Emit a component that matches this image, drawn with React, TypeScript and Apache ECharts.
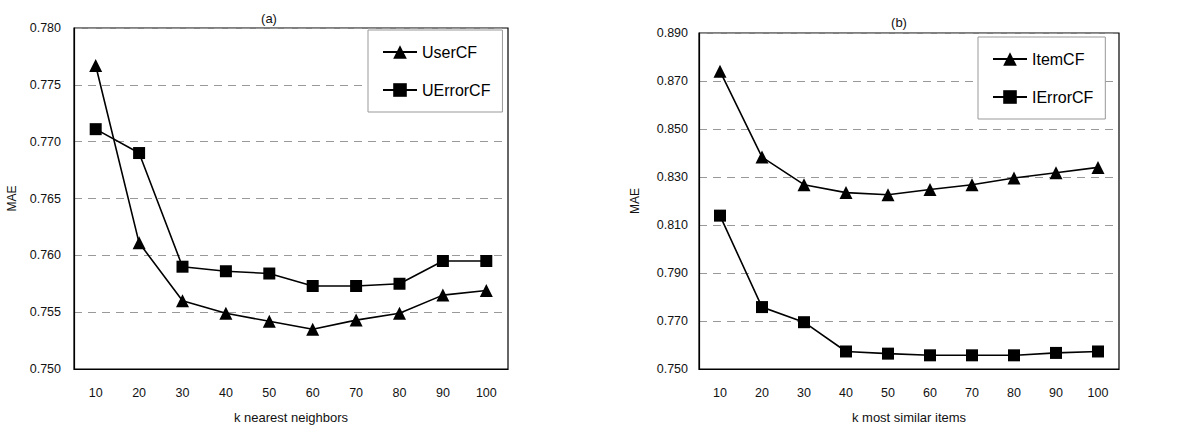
import React, { useEffect, useRef } from "react";
import * as echarts from "echarts";

const categories = ["10", "20", "30", "40", "50", "60", "70", "80", "90", "100"];
const userCF = [0.7767, 0.7611, 0.756, 0.7549, 0.7542, 0.7535, 0.7543, 0.7549, 0.7565, 0.7569];
const uErrorCF = [0.7711, 0.769, 0.759, 0.7586, 0.7584, 0.7573, 0.7573, 0.7575, 0.7595, 0.7595];
const itemCF = [0.8741, 0.8383, 0.8268, 0.8235, 0.8226, 0.8248, 0.8268, 0.8296, 0.8318, 0.834];
const iErrorCF = [0.8139, 0.7758, 0.7695, 0.7573, 0.7564, 0.7557, 0.7557, 0.7557, 0.7567, 0.7573];

const FONT = "Liberation Sans, Arial, sans-serif";

export default function App() {
  const ref = useRef<HTMLDivElement>(null);
  useEffect(() => {
    document.body.style.margin = "0";
    const chart = echarts.init(ref.current!, null, { renderer: "svg" });
    const lineStyle = { color: "#000", width: 1.6 };
    const mkX = (gi: number, name: string) => ({
      type: "category",
      gridIndex: gi,
      data: categories,
      boundaryGap: true,
      name,
      nameLocation: "middle",
      nameGap: 42,
      nameTextStyle: { fontFamily: FONT, fontSize: 13, color: "#111" },
      axisLine: { lineStyle: { color: "#000", width: 1.2 } },
      axisTick: { show: false },
      axisLabel: { fontFamily: FONT, fontSize: 12.5, color: "#111", margin: 17 },
      splitLine: { show: false },
    });
    const mkY = (gi: number, min: number, max: number, interval: number, margin: number, nameGap: number) => ({
      type: "value",
      gridIndex: gi,
      min,
      max,
      interval,
      name: "MAE",
      nameLocation: "middle",
      nameGap,
      nameRotate: 90,
      nameTextStyle: { fontFamily: FONT, fontSize: 12, color: "#111" },
      axisLine: { show: true, lineStyle: { color: "#000", width: 1.2 } },
      axisTick: { show: false },
      axisLabel: {
        fontFamily: FONT,
        fontSize: 12.5,
        color: "#111",
        margin,
        formatter: (v: number) => v.toFixed(3),
      },
      splitLine: { show: true, lineStyle: { color: "#999", type: [8, 6], width: 1 } },
    });
    const legendCommon = {
      orient: "vertical",
      itemWidth: 34,
      itemHeight: 17,
      itemGap: 22,
      borderColor: "#999",
      borderWidth: 1,
      backgroundColor: "#fff",
      textStyle: { fontFamily: FONT, fontSize: 16, color: "#000" },
      padding: [14, 12, 14, 14],
    };
    const mkSeries = (name: string, data: number[], gi: number, symbol: string, size: number) => ({
      type: "line",
      name,
      data,
      xAxisIndex: gi,
      yAxisIndex: gi,
      symbol,
      symbolSize: size,
      showAllSymbol: true,
      lineStyle,
      itemStyle: { color: "#000" },
      z: 5,
    });
    chart.setOption({
      animation: false,
      backgroundColor: "#fff",
      title: [
        { text: "(a)", left: 264, top: 7, textAlign: "center", textStyle: { fontFamily: FONT, fontSize: 13, fontWeight: "normal", color: "#111" } },
        { text: "(b)", left: 894, top: 11, textAlign: "center", textStyle: { fontFamily: FONT, fontSize: 13, fontWeight: "normal", color: "#111" } },
      ],
      grid: [
        { left: 74, top: 28, width: 434, height: 345, show: true, borderColor: "#000", borderWidth: 1.2, backgroundColor: "transparent" },
        { left: 699, top: 33, width: 420, height: 339, show: true, borderColor: "#000", borderWidth: 1.2, backgroundColor: "transparent" },
      ],
      legend: [
        { ...legendCommon, left: 368, top: 30, data: ["UserCF", "UErrorCF"] },
        { ...legendCommon, left: 978, top: 37, data: ["ItemCF", "IErrorCF"] },
      ],
      xAxis: [mkX(0, "k nearest neighbors"), mkX(1, "k most similar items")],
      yAxis: [mkY(0, 0.75, 0.78, 0.005, 13, 56), mkY(1, 0.75, 0.89, 0.02, 11, 58)],
      series: [
        mkSeries("UserCF", userCF, 0, "triangle", 13),
        mkSeries("UErrorCF", uErrorCF, 0, "rect", 12),
        mkSeries("ItemCF", itemCF, 1, "triangle", 13),
        mkSeries("IErrorCF", iErrorCF, 1, "rect", 12),
      ],
    });
    return () => chart.dispose();
  }, []);
  return <div ref={ref} style={{ width: 1189, height: 429 }} />;
}
